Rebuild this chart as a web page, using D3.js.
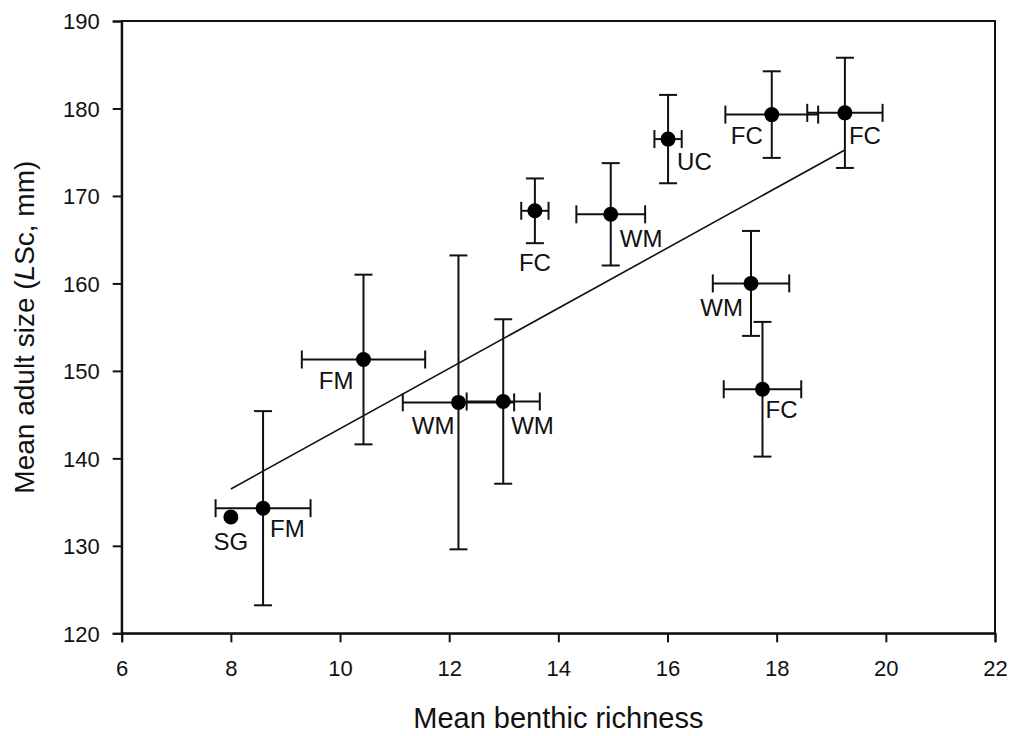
<!DOCTYPE html>
<html>
<head>
<meta charset="utf-8">
<script src="https://cdn.jsdelivr.net/npm/d3@7"></script>
<style>
  html, body { margin: 0; padding: 0; background: #fff; }
  svg { display: block; font-family: Arial, "Liberation Sans", sans-serif; }
</style>
</head>
<body>
<svg id="chart" width="1012" height="736"></svg>
<script>
// Site groups and their mean values (± error)
const groups   = ["SG", "FM", "FM", "WM", "WM", "FC", "WM", "UC", "FC", "FC", "WM", "FC"];
const richness = [8.00, 8.59, 10.43, 12.17, 12.99, 13.57, 14.96, 16.01, 17.91, 19.25, 17.53, 17.74];
const richErr  = [0, 0.87, 1.13, 1.02, 0.67, 0.25, 0.63, 0.25, 0.85, 0.69, 0.70, 0.71];
const sizeMean = [133.3, 134.3, 151.3, 146.4, 146.5, 168.3, 167.9, 176.5, 179.3, 179.5, 160.0, 147.9];
const sizeErr  = [0, 11.1, 9.7, 16.8, 9.4, 3.7, 5.85, 5.05, 4.95, 6.3, 6.0, 7.7];

// Least-squares fit, drawn across the observed richness range
const fitX = [8.00, 19.25];
const fitY = [136.5, 175.25];

const xTicks = [6, 8, 10, 12, 14, 16, 18, 20, 22];
const yTicks = [120, 130, 140, 150, 160, 170, 180, 190];

// Label placement around each point: [dx, dy, anchor]
const labelPlace = [
  [0, 33, "middle"], [7, 29, "start"], [-10, 29, "end"], [-4, 32, "end"],
  [8, 32, "start"], [0, 60, "middle"], [9, 33, "start"], [9, 31, "start"],
  [-9, 29, "end"], [4, 31, "start"], [-8, 33, "end"], [3, 29, "start"]
];

const svg = d3.select("#chart");
const L = 121.7, R = 995, T = 21, B = 633.3;

const x = d3.scaleLinear().domain([6, 22]).range([L, R]);
const y = d3.scaleLinear().domain([120, 190]).range([B, T]);

const stroke = "#111";

// Frame
svg.append("rect")
  .attr("x", L).attr("y", T).attr("width", R - L).attr("height", B - T)
  .attr("fill", "none").attr("stroke", stroke).attr("stroke-width", 2);

// Axes
const xAxis = svg.append("g")
  .attr("transform", `translate(0,${B})`)
  .call(d3.axisBottom(x).tickValues(xTicks).tickSize(9).tickPadding(14).tickFormat(d3.format("d")));
const yAxis = svg.append("g")
  .attr("transform", `translate(${L},0)`)
  .call(d3.axisLeft(y).tickValues(yTicks).tickSize(9).tickPadding(13).tickFormat(d3.format("d")));

[xAxis, yAxis].forEach(g => {
  g.select(".domain").attr("stroke", stroke).attr("stroke-width", 2);
  g.selectAll(".tick line").attr("stroke", stroke).attr("stroke-width", 2);
  g.selectAll(".tick text")
    .attr("fill", "#111")
    .style("font-size", "22px")
    .style("font-family", "Arial, 'Liberation Sans', sans-serif");
});
xAxis.selectAll(".tick text").attr("dy", null).attr("y", 43);
yAxis.selectAll(".tick text").attr("dy", "0.36em");

// Regression line
svg.append("line")
  .attr("x1", x(fitX[0])).attr("y1", y(fitY[0]))
  .attr("x2", x(fitX[1])).attr("y2", y(fitY[1]))
  .attr("stroke", stroke).attr("stroke-width", 1.6);

const data = groups.map((g, i) => ({
  g, x: richness[i], xe: richErr[i], y: sizeMean[i], ye: sizeErr[i], place: labelPlace[i]
}));

const cap = 9;
const eb = svg.append("g").attr("stroke", stroke).attr("stroke-width", 2).attr("fill", "none");

data.filter(d => d.xe > 0).forEach(d => {
  const x0 = x(d.x - d.xe), x1 = x(d.x + d.xe), yy = y(d.y);
  eb.append("line").attr("x1", x0).attr("x2", x1).attr("y1", yy).attr("y2", yy);
  eb.append("line").attr("x1", x0).attr("x2", x0).attr("y1", yy - cap).attr("y2", yy + cap);
  eb.append("line").attr("x1", x1).attr("x2", x1).attr("y1", yy - cap).attr("y2", yy + cap);
});
data.filter(d => d.ye > 0).forEach(d => {
  const y0 = y(d.y - d.ye), y1 = y(d.y + d.ye), xx = x(d.x);
  eb.append("line").attr("x1", xx).attr("x2", xx).attr("y1", y0).attr("y2", y1);
  eb.append("line").attr("x1", xx - cap).attr("x2", xx + cap).attr("y1", y0).attr("y2", y0);
  eb.append("line").attr("x1", xx - cap).attr("x2", xx + cap).attr("y1", y1).attr("y2", y1);
});

// Points
svg.append("g").selectAll("circle").data(data).join("circle")
  .attr("cx", d => x(d.x)).attr("cy", d => y(d.y))
  .attr("r", 7.5).attr("fill", "#000");

// Group labels
svg.append("g").selectAll("text").data(data).join("text")
  .attr("x", d => x(d.x) + d.place[0])
  .attr("y", d => y(d.y) + d.place[1])
  .attr("text-anchor", d => d.place[2])
  .attr("fill", "#111")
  .style("font-size", "24px")
  .text(d => d.g);

// Axis titles
svg.append("text")
  .attr("x", (L + R) / 2).attr("y", 728)
  .attr("text-anchor", "middle").attr("fill", "#111")
  .style("font-size", "29px")
  .text("Mean benthic richness");

const yt = svg.append("text")
  .attr("transform", `translate(33.5,${(T + B) / 2}) rotate(-90)`)
  .attr("text-anchor", "middle").attr("fill", "#111")
  .style("font-size", "28px");
yt.append("tspan").text("Mean adult size (");
yt.append("tspan").style("font-style", "italic").text("L");
yt.append("tspan").text("Sc, mm)");
</script>
</body>
</html>
